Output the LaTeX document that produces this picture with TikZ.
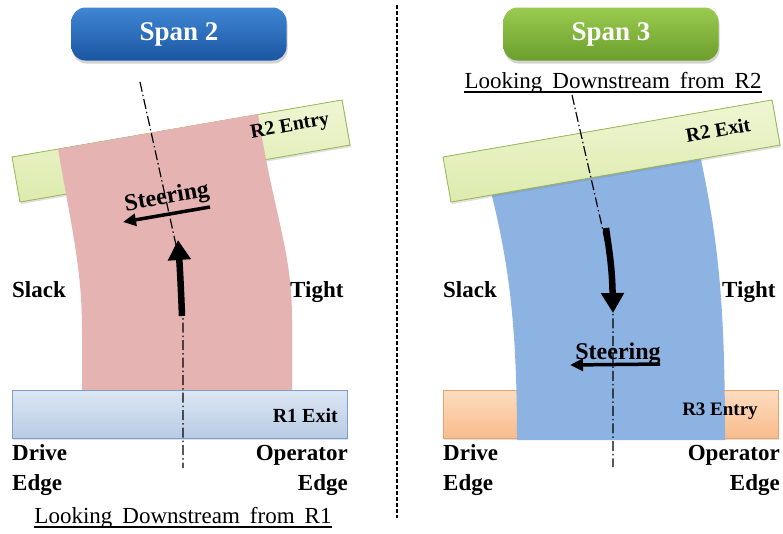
\documentclass[tikz,border=0pt]{standalone}
\usepackage{fontspec}
\setmainfont{Liberation Serif}
\usetikzlibrary{arrows.meta,shadows,calc}
\definecolor{webpink}{HTML}{E6B3B3}
\definecolor{webblue}{HTML}{8DB3E2}
\definecolor{barBlueT}{HTML}{DCE6F3}
\definecolor{barBlueB}{HTML}{B8CCE5}
\definecolor{barBlueD}{HTML}{7F9FCB}
\definecolor{barGreenT}{HTML}{EEF6D2}
\definecolor{barGreenB}{HTML}{DDEBAE}
\definecolor{barGreenD}{HTML}{9BBB59}
\definecolor{barOrT}{HTML}{FDDCC0}
\definecolor{barOrB}{HTML}{F8BC8C}
\definecolor{barOrD}{HTML}{E6A46E}
\definecolor{spanBlueT}{HTML}{3F86D3}
\definecolor{spanBlueB}{HTML}{1B56A2}
\definecolor{spanGreenT}{HTML}{9ACB50}
\definecolor{spanGreenB}{HTML}{6B9E2C}
\begin{document}
\begin{tikzpicture}[x=1pt,y=-1pt,
  lab/.style={inner sep=0pt, font=\fontsize{23}{28}\selectfont\bfseries},
  steerlab/.style={inner sep=0pt, font=\fontsize{24}{28}\selectfont\bfseries},
  rlab/.style={inner sep=0pt, font=\fontsize{20}{24}\selectfont\bfseries},
  caplab/.style={inner sep=0pt, font=\fontsize{23}{28}\selectfont},
  spanbtn/.style={rounded corners=14pt, minimum width=215pt, minimum height=53pt,
    text=white, font=\fontsize{27}{32}\selectfont\bfseries,
    drop shadow={shadow xshift=1pt,shadow yshift=-3pt,opacity=0.35}},
  barshadow/.style={drop shadow={shadow xshift=1pt,shadow yshift=-2pt,opacity=0.25}},
  cline/.style={line width=1.2pt, dash pattern=on 10pt off 3pt on 1.5pt off 3pt},
  bigarrow/.style={line width=6.5pt, -{Triangle[length=20pt,width=22pt]}},
  steerarrow/.style={line width=3.5pt, -{Triangle[length=13pt,width=12pt]}},
]
\useasboundingbox (0,0) rectangle (783,533);

% ---------------- Left panel: Span 2 ----------------
\node[spanbtn, top color=spanBlueT, bottom color=spanBlueB] (span2) at (179,34) {Span 2};

% R2 Entry bar
\filldraw[draw=barGreenD, line width=0.8pt, top color=barGreenT, bottom color=barGreenB, barshadow]
  (12,157) -- (342,100) -- (350,145) -- (20,202) -- cycle;
% pink web
\fill[webpink] (58,149) .. controls (72,230) and (82,270) .. (82,330) -- (82,392)
  -- (292,392) -- (292,320) .. controls (292,250) and (275,220) .. (258,114) -- cycle;
\node[rlab, rotate=10] (r2entry) at (290,127) {R2 Entry};
% R1 Exit bar
\filldraw[draw=barBlueD, line width=0.8pt, top color=barBlueT, bottom color=barBlueB, barshadow]
  (12,390) rectangle (347,438);
\node[rlab, anchor=base east] (r1exit) at (338,422) {R1 Exit};

% centerline
\draw[cline] (140,82) -- (176,245) .. controls (180,265) and (183,290) .. (183,330) -- (183,468);
% travel arrow
\draw[bigarrow] (182,316) .. controls (181,290) and (180,270) .. (178,240);
% steering
\node[steerlab, rotate=10] (steer2) at (167,198) {Steering};
\draw[steerarrow] (210,207) -- (123,222);

\node[lab, anchor=base west] (slack2) at (12,297) {Slack};
\node[lab, anchor=base west] (tight2) at (290,297) {Tight};
\node[lab, anchor=base west] (drive2) at (12,460) {Drive};
\node[lab, anchor=base west] (dedge2) at (12,490) {Edge};
\node[lab, anchor=base east] (oper2) at (348,460) {Operator};
\node[lab, anchor=base east] (oedge2) at (348,490) {Edge};

\node[caplab, anchor=base] (cap2) at (183,523) {Looking\hspace{10pt}Downstream\hspace{10pt}from\hspace{10pt}R1};
\draw[line width=1.1pt] ($(cap2.base west)+(0,4)$) -- ($(cap2.base east)+(0,4)$);

% ---------------- divider ----------------
\coordinate (divtop) at (397,5);
\coordinate (divbot) at (397,518);
\draw[line width=2.5pt, dash pattern=on 4pt off 2pt] (divtop) -- (divbot);

% ---------------- Right panel: Span 3 ----------------
\node[spanbtn, top color=spanGreenT, bottom color=spanGreenB] (span3) at (611,34) {Span 3};
\node[caplab, anchor=base] (cap3) at (613,88) {Looking\hspace{10pt}Downstream\hspace{10pt}from\hspace{10pt}R2};
\draw[line width=1.1pt] ($(cap3.base west)+(0,4)$) -- ($(cap3.base east)+(0,4)$);

% R3 Entry bar
\filldraw[draw=barOrD, line width=0.8pt, top color=barOrT, bottom color=barOrB, barshadow]
  (443,390) rectangle (778,438);
% blue web
\fill[webblue] (490,188) .. controls (508,260) and (517,320) .. (517,440)
  -- (725,440) .. controls (725,300) and (718,240) .. (700,155) -- cycle;
% R2 Exit bar
\filldraw[draw=barGreenD, line width=0.8pt, top color=barGreenT, bottom color=barGreenB, barshadow]
  (443,157) -- (772,100) -- (780,145) -- (451,202) -- cycle;
\node[rlab, rotate=10] (r2exit) at (718,130) {R2 Exit};
\node[rlab, font=\fontsize{19}{23}\selectfont\bfseries] (r3entry) at (720,411) {R3 Entry};

% centerline
\draw[cline] (572,95) -- (604,235) .. controls (608,255) and (613,280) .. (613,320) -- (613,467);
% travel arrow
\draw[bigarrow] (606,228) .. controls (609,250) and (612,265) .. (613,313);
% steering
\node[steerlab, anchor=base] (steer3) at (618,359) {Steering};
\draw[steerarrow] (660,364) -- (570,365);

\node[lab, anchor=base west] (slack3) at (443,297) {Slack};
\node[lab, anchor=base west] (tight3) at (722,297) {Tight};
\node[lab, anchor=base west] (drive3) at (443,460) {Drive};
\node[lab, anchor=base west] (dedge3) at (443,490) {Edge};
\node[lab, anchor=base east] (oper3) at (780,460) {Operator};
\node[lab, anchor=base east] (oedge3) at (780,490) {Edge};
\end{tikzpicture}
\end{document}
